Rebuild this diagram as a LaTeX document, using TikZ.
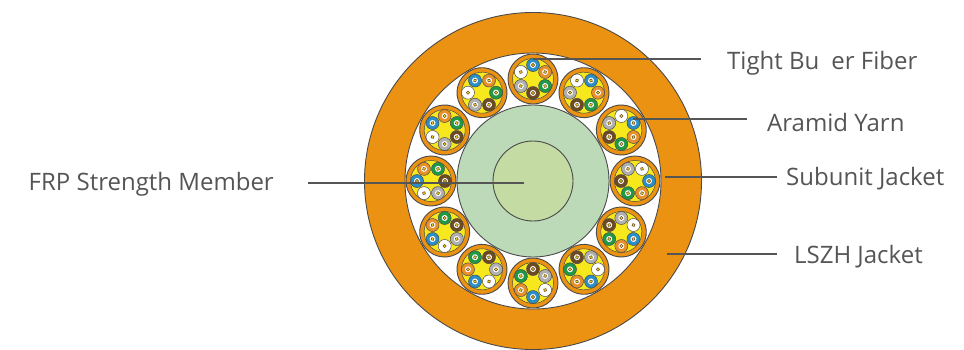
\documentclass[tikz,border=0pt]{standalone}
\usepackage{fontspec}
\setmainfont{Open Sans}
\definecolor{jacket}{HTML}{EC9213}
\definecolor{frpout}{HTML}{BCDAB8}
\definecolor{frpin}{HTML}{C5DBA4}
\definecolor{yarn}{HTML}{F7E81E}
\definecolor{edgec}{HTML}{4A4A4A}
\definecolor{leadc}{HTML}{555555}
\definecolor{fblue}{HTML}{2A8FC9}
\definecolor{forange}{HTML}{E8912A}
\definecolor{fgreen}{HTML}{1E9A46}
\definecolor{fbrown}{HTML}{6B4A24}
\definecolor{fgray}{HTML}{B0B0B0}
\tikzset{
  part/.style={draw=edgec,line width=0.9pt},
  thin part/.style={draw=edgec,line width=0.5pt},
  leader/.style={draw=leadc,line width=2.9pt},
  caption/.style={anchor=base west,inner sep=0pt,text=leadc,font=\fontsize{24}{26}\selectfont}
}
\begin{document}
\begin{tikzpicture}[x=1pt,y=-1pt]
\useasboundingbox (0,0) rectangle (964,349);
\fill[white] (0,0) rectangle (964,349);
\coordinate (C) at (533,181);
\fill[jacket,part] (C) circle (168.5);
\fill[white,part] (C) circle (128);
\fill[frpout,part] (C) circle (76);
\fill[frpin,part] (C) circle (40);
\foreach \a in {0,30,...,330}{
  \begin{scope}[shift={(533,181)},rotate=-\a]
    \begin{scope}[shift={(0,-102)}]
      \fill[jacket,part] (0,0) circle (25);
      \fill[yarn,thin part] (0,0) circle (20.5);
      \foreach \c [count=\i from 0] in {fblue,forange,fgreen,fbrown,fgray,white}{
        \begin{scope}[rotate=-60*\i,shift={(0,-14)}]
          \fill[\c,thin part] (0,0) circle (6.5);
          \fill[white] (0,0) circle (3);
          \fill[yarn,draw=fbrown,line width=0.6pt] (0,0) circle (1.6);
        \end{scope}
      }
    \end{scope}
  \end{scope}
}
\node[caption] (tbf) at (727,69.5) {Tight Bu\hspace{12pt}er Fiber};
\node[caption] (aya) at (767,131.5) {Aramid Yarn};
\node[caption] (suj) at (786,185) {Subunit Jacket};
\node[caption] (lsz) at (794,263) {LSZH Jacket};
\node[caption,anchor=base east] (frp) at (274,190) {FRP Strength Member};
\coordinate (p1) at (533,59);
\coordinate (p2) at (633,119);
\coordinate (p3) at (665,177);
\coordinate (p4) at (667,254);
\coordinate (p5) at (524,183);
\draw[leader,shorten >=26pt] (p1) -- (p1 -| tbf.west);
\draw[leader,shorten >=20pt] (p2) -- (p2 -| aya.west);
\draw[leader,shorten >=9pt] (p3) -- (p3 -| suj.west);
\draw[leader,shorten >=17pt] (p4) -- (p4 -| lsz.west);
\draw[leader,shorten >=34pt] (p5) -- (p5 -| frp.east);
\end{tikzpicture}
\end{document}
